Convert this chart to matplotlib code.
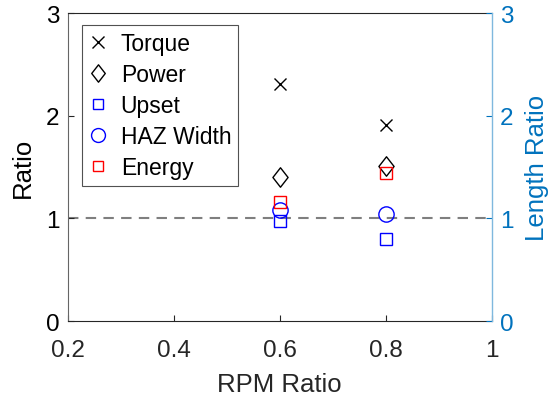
import numpy as np
import matplotlib.pyplot as plt
from matplotlib.path import Path

plt.rcParams['font.family'] = ['Liberation Sans', 'DejaVu Sans']

rpm_ratio = [0.6, 0.8]
torque = [2.31, 1.91]
power = [1.40, 1.51]
upset = [0.97, 0.80]
haz_width = [1.08, 1.04]
energy = [1.16, 1.44]

AX_DARK = '#262626'
LEN_BLUE = '#0072BD'

# slightly tall diamond
diamond = Path([(0, 1), (0.78, 0), (0, -1), (-0.78, 0), (0, 1)],
               [Path.MOVETO, Path.LINETO, Path.LINETO, Path.LINETO, Path.CLOSEPOLY])

fig = plt.figure(figsize=(5.55, 4.02), dpi=100)
ax = fig.add_axes([0.122, 0.199, 0.764, 0.766])

ax.plot(rpm_ratio, torque, 'x', color='k', ms=8, mew=1.0, label='Torque')
ax.plot(rpm_ratio, power, linestyle='none', marker=diamond, mfc='none', mec='k',
        ms=14, mew=1.0, label='Power')
ax.plot(rpm_ratio, upset, 's', mfc='none', mec='#0000ff', ms=8, mew=1.0, label='Upset')
ax.plot(rpm_ratio, haz_width, 'o', mfc='none', mec='#0000ff', ms=11, mew=1.0,
        label='HAZ Width')
ax.plot(rpm_ratio, energy, 's', mfc='none', mec='#ff0000', ms=8, mew=1.0, label='Energy')
ax.axhline(1, color='#7f7f7f', ls=(0, (5, 3.5)), lw=1.5, zorder=0)

ax.set_xlim(0.2, 1)
ax.set_ylim(0, 3)
ax.set_xticks([0.2, 0.4, 0.6, 0.8, 1])
ax.set_xticklabels(['0.2', '0.4', '0.6', '0.8', '1'])
ax.set_yticks([0, 1, 2, 3])
ax.tick_params(direction='in', length=4, width=0.8, labelsize=17.5, colors=AX_DARK,
               labelcolor='k', top=False)
ax.tick_params(axis='x', pad=13, labelcolor=AX_DARK)
ax.tick_params(axis='y', pad=6)
ax.set_xlabel('RPM Ratio', fontsize=18.5, color=AX_DARK, labelpad=8)
ax.set_ylabel('Ratio', fontsize=18.5, color='k', labelpad=8)
for side in ['left', 'bottom', 'top']:
    ax.spines[side].set_color(AX_DARK)
    ax.spines[side].set_linewidth(0.8)
ax.spines['left'].set_color('#666666')
ax.spines['right'].set_visible(False)

# second y axis for the length ratios
ax2 = ax.twinx()
ax2.set_ylim(0, 3)
ax2.set_yticks([0, 1, 2, 3])
ax2.tick_params(direction='in', length=4, width=0.8, labelsize=17.5, colors=LEN_BLUE,
                pad=6)
ax2.set_ylabel('Length Ratio', fontsize=18.5, color=LEN_BLUE, labelpad=8)
ax2.spines['right'].set_color('#7fb8de')
ax2.spines['right'].set_linewidth(1.0)
for side in ['left', 'bottom', 'top']:
    ax2.spines[side].set_visible(False)

leg = ax.legend(loc='upper left', bbox_to_anchor=(0.033, 0.96), fontsize=16.5,
                frameon=True, fancybox=False, edgecolor=AX_DARK, handlelength=0.8,
                handletextpad=0.6, labelspacing=0.35, borderpad=0.3, markerscale=1.0,
                borderaxespad=0)
leg.get_frame().set_linewidth(0.8)
for h, ms in zip(leg.legend_handles, [8, 12.5, 7.5, 10, 7.5]):
    h.set_markersize(ms)

fig.savefig('out.png', dpi=100)
